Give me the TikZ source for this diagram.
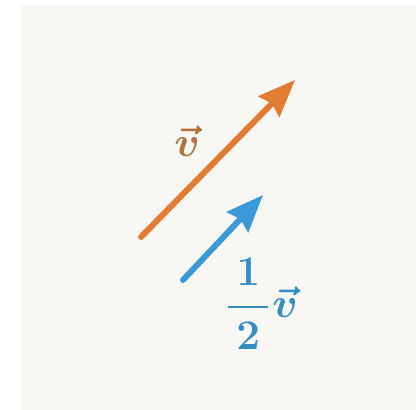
\documentclass[tikz,border=0pt]{standalone}
\usepackage{amsmath, amssymb}
\usepackage{tikz}
\usetikzlibrary{arrows.meta, positioning, calc}
\usepackage{xcolor}
\definecolor{fondo}{RGB}{248,247,243}
\definecolor{naranja}{RGB}{226,124,50}
\definecolor{naranjatxt}{RGB}{178,112,62}
\definecolor{azul}{RGB}{58,154,216}
\definecolor{azultxt}{RGB}{52,140,196}
\tikzset{
  vecflecha/.style={-{Stealth[length=0.37cm, width=0.29cm, inset=0.04cm]}, line width=1.7pt, line cap=round},
  etiqueta/.style={inner sep=0pt, font=\fontsize{13}{15}\selectfont\boldmath}
}
\begin{document}
\begin{tikzpicture}[x=0.01cm, y=-0.01cm]
    \useasboundingbox (0,0) rectangle (416,410);
    \fill[fondo] (21,5) rectangle (416,410);
    \coordinate (v0) at (141,237);
    \coordinate (v1) at (295,80);
    \coordinate (h0) at (183,280);
    \coordinate (h1) at (263,195);
    \draw[vecflecha, naranja] (v0) -- (v1);
    \draw[vecflecha, azul] (h0) -- (h1);
    \node[etiqueta, text=naranjatxt] (lv) at (187,141) {$\vec{v}$};
    \node[etiqueta, text=azultxt] (lh) at (261,304) {$\dfrac{\,1\,}{\,2\,}\vec{v}$};
  \end{tikzpicture}
\end{document}
